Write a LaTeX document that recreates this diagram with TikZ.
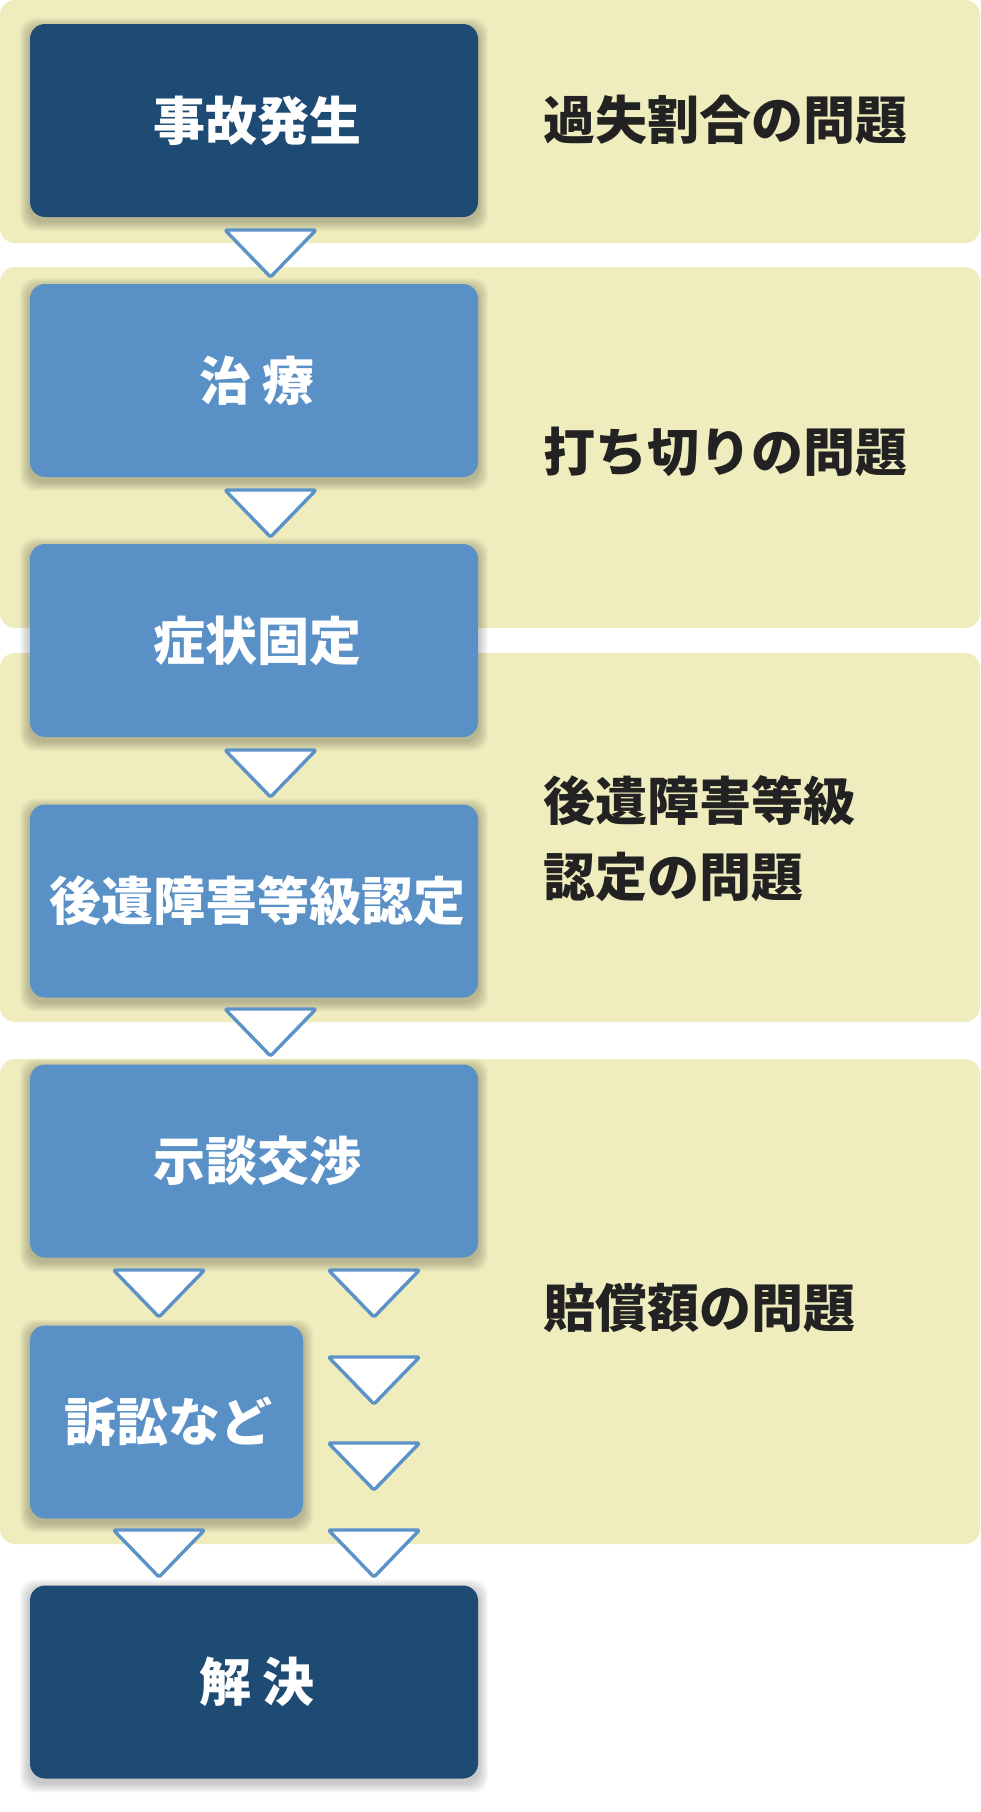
\documentclass[tikz,border=0pt]{standalone}
\usepackage{fontspec}
\setmainfont{Noto Sans CJK JP}
\usetikzlibrary{calc}
\definecolor{navy}{HTML}{1D4B73}
\definecolor{sky}{HTML}{5990C6}
\definecolor{bandcol}{HTML}{EFECBD}
\definecolor{inkcol}{HTML}{222222}
\definecolor{triline}{HTML}{5B92C8}
\pgfdeclarelayer{bands}
\pgfdeclarelayer{shadow}
\pgfsetlayers{bands,shadow,main}
\begin{document}
\begin{tikzpicture}[x=1pt,y=-1pt,
  stepbox/.style={rectangle, rounded corners=15pt, minimum width=448pt, minimum height=193pt, inner sep=0pt, text=white, font=\fontsize{52}{60}\selectfont\bfseries},
  darkbox/.style={stepbox, fill=navy},
  lightbox/.style={stepbox, fill=sky},
  bandbox/.style={fill=bandcol, rounded corners=15pt},
  lbl/.style={anchor=west, inner sep=0pt, text=inkcol, font=\fontsize{52}{76}\selectfont\bfseries, align=left},
  tri/.style={draw=triline, line width=3.4pt, fill=white, line join=round, rounded corners=1.5pt},
  downtri/.pic={\draw[tri] (-45.5,0) -- (45.5,0) -- (0,47) -- cycle;}
]
\useasboundingbox (0,0) rectangle (980,1812);

\begin{pgfonlayer}{bands}
\fill[bandbox] (0,0) rectangle (980,243);
\fill[bandbox] (0,267) rectangle (980,628);
\fill[bandbox] (0,653) rectangle (980,1022);
\fill[bandbox] (0,1059) rectangle (980,1544);
\end{pgfonlayer}

\node[darkbox] (b1) at (254,120.5) {\hspace{6pt}事故発生};
\node[lightbox] (b2) at (254,380.5) {\hspace{6pt}治 療};
\node[lightbox] (b3) at (254,640.5) {\hspace{6pt}症状固定};
\node[lightbox] (b4) at (254,901) {\hspace{6pt}後遺障害等級認定};
\node[lightbox] (b5) at (254,1161) {\hspace{6pt}示談交渉};
\node[lightbox, minimum width=273pt] (b6) at (166.5,1422) {\hspace{4pt}訴訟など};
\node[darkbox] (b7) at (254,1682) {\hspace{6pt}解 決};

\begin{pgfonlayer}{shadow}
\foreach \n in {1,...,7}{
  \foreach \i in {1,...,10}{
    \fill[black, opacity=0.022, rounded corners=15pt] ($(b\n.north west)+(-\i,4-\i)$) rectangle ($(b\n.south east)+(\i,4+\i)$);
  }
}
\end{pgfonlayer}

\pic at (270.5,230) {downtri};
\pic at (270.5,490) {downtri};
\pic at (270.5,750) {downtri};
\pic at (270.5,1009) {downtri};
\pic at (159,1270) {downtri};
\pic at (374,1270) {downtri};
\pic at (374,1357) {downtri};
\pic at (374,1443) {downtri};
\pic at (159,1530) {downtri};
\pic at (374,1530) {downtri};

\node[lbl] (q1) at (543,120) {過失割合の問題};
\node[lbl] (q2) at (543,452) {打ち切りの問題};
\node[lbl] (q3) at (543,839) {後遺障害等級\\認定の問題};
\node[lbl] (q4) at (543,1308) {賠償額の問題};
\end{tikzpicture}
\end{document}
